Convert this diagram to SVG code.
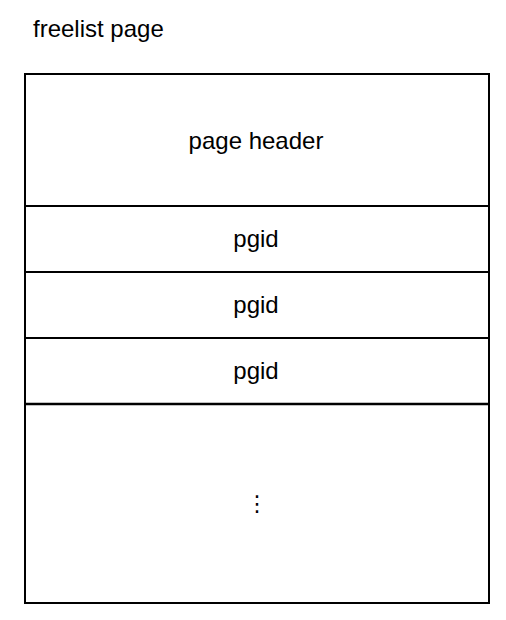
<svg xmlns="http://www.w3.org/2000/svg" width="506" height="620" viewBox="0 0 506 620">
<style>
.t{font-family:"Liberation Sans",Arial,sans-serif;font-size:24px;fill:#000;text-anchor:middle}
.c{fill:#fff;stroke:#000;stroke-width:2}
</style>
<rect width="506" height="620" fill="#fff"/>
<text id="title" x="33" y="37" class="t" style="text-anchor:start">freelist page</text>
<g id="header"><rect class="c" x="25" y="74" width="464" height="132"/><text class="t" x="256" y="149">page header</text></g>
<g id="pgid1"><rect class="c" x="25" y="206" width="464" height="66"/><text class="t" x="256" y="247">pgid</text></g>
<g id="pgid2"><rect class="c" x="25" y="272" width="464" height="66"/><text class="t" x="256" y="313">pgid</text></g>
<g id="pgid3"><rect class="c" x="25" y="338" width="464" height="66"/><text class="t" x="256" y="379">pgid</text></g>
<g id="rest"><rect class="c" x="25" y="404" width="464" height="199"/><line x1="25" y1="404" x2="489" y2="404" stroke="#000" stroke-width="2.5"/><text class="t" x="257" y="511" style="font-family:'DejaVu Sans',sans-serif;font-size:22px">⋮</text></g>
<g id="connectors"></g>
</svg>
